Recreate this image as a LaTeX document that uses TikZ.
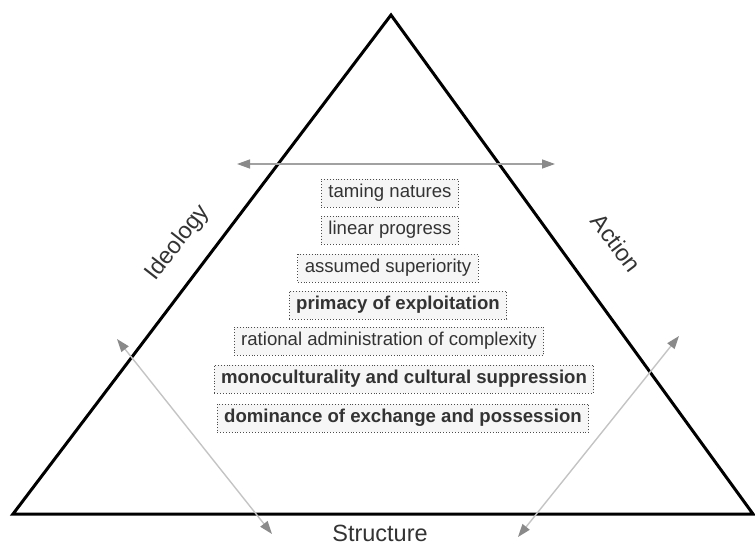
\documentclass[tikz,border=0pt]{standalone}
\usepackage{fontspec}
\setmainfont{Liberation Sans}
\usetikzlibrary{arrows.meta}
\definecolor{txt}{HTML}{333333}
\definecolor{boxfill}{HTML}{F6F6F6}
\definecolor{arrline}{HTML}{C4C4C4}
\definecolor{arrhead}{HTML}{8A8A8A}
\tikzset{
  itembox/.style={draw=black!70, dotted, line width=0.9pt, fill=boxfill, text=txt,
    font=\fontsize{18.6}{21}\selectfont, inner xsep=7pt, text height=13.5pt, text depth=4.5pt, inner ysep=5pt},
  boldbox/.style={itembox, font=\fontsize{18.6}{21}\selectfont\bfseries},
  sidelabel/.style={text=txt, font=\fontsize{23.5}{26}\selectfont},
  dblarrow/.style={draw=arrline, line width=1.4pt, {Triangle[length=13pt,width=9pt,color=arrhead,fill=arrhead]}-{Triangle[length=13pt,width=9pt,color=arrhead,fill=arrhead]}},
  harrow/.style={dblarrow, draw=arrhead!80}
}
\begin{document}
\begin{tikzpicture}[x=1pt,y=-1pt]
\useasboundingbox (0,0) rectangle (755,553);
% triangle
\coordinate (apex) at (391,15);
\coordinate (bl) at (13,514);
\coordinate (br) at (753,514);
\draw[line width=3pt, line join=miter] (bl) -- (apex) -- (br) -- cycle;
% horizontal arrow
\coordinate (hl) at (237,164);
\coordinate (hr) at (555,164);
\draw[harrow] (hl) -- (hr);
% diagonal arrows
\coordinate (la) at (117,339);
\coordinate (lb) at (272,534);
\draw[dblarrow] (la) -- (lb);
\coordinate (ra) at (679,336);
\coordinate (rb) at (518,537);
\draw[dblarrow] (ra) -- (rb);
% boxes
\node[itembox] (b1) at (390,193) {taming natures};
\node[itembox] (b2) at (390,230) {linear progress};
\node[itembox] (b3) at (388,268) {assumed superiority};
\node[boldbox] (b4) at (398,305) {primacy of exploitation};
\node[itembox] (b5) at (389,341) {rational administration of complexity};
\node[boldbox] (b6) at (404,379) {monoculturality and cultural suppression};
\node[boldbox] (b7) at (403,418) {dominance of exchange and possession};
% labels
\node[sidelabel, rotate=52] (ideo) at (178,243) {Ideology};
\node[sidelabel, rotate=-53] (act) at (616,243) {Action};
\node[sidelabel] (str) at (380,533) {Structure};
\end{tikzpicture}
\end{document}
